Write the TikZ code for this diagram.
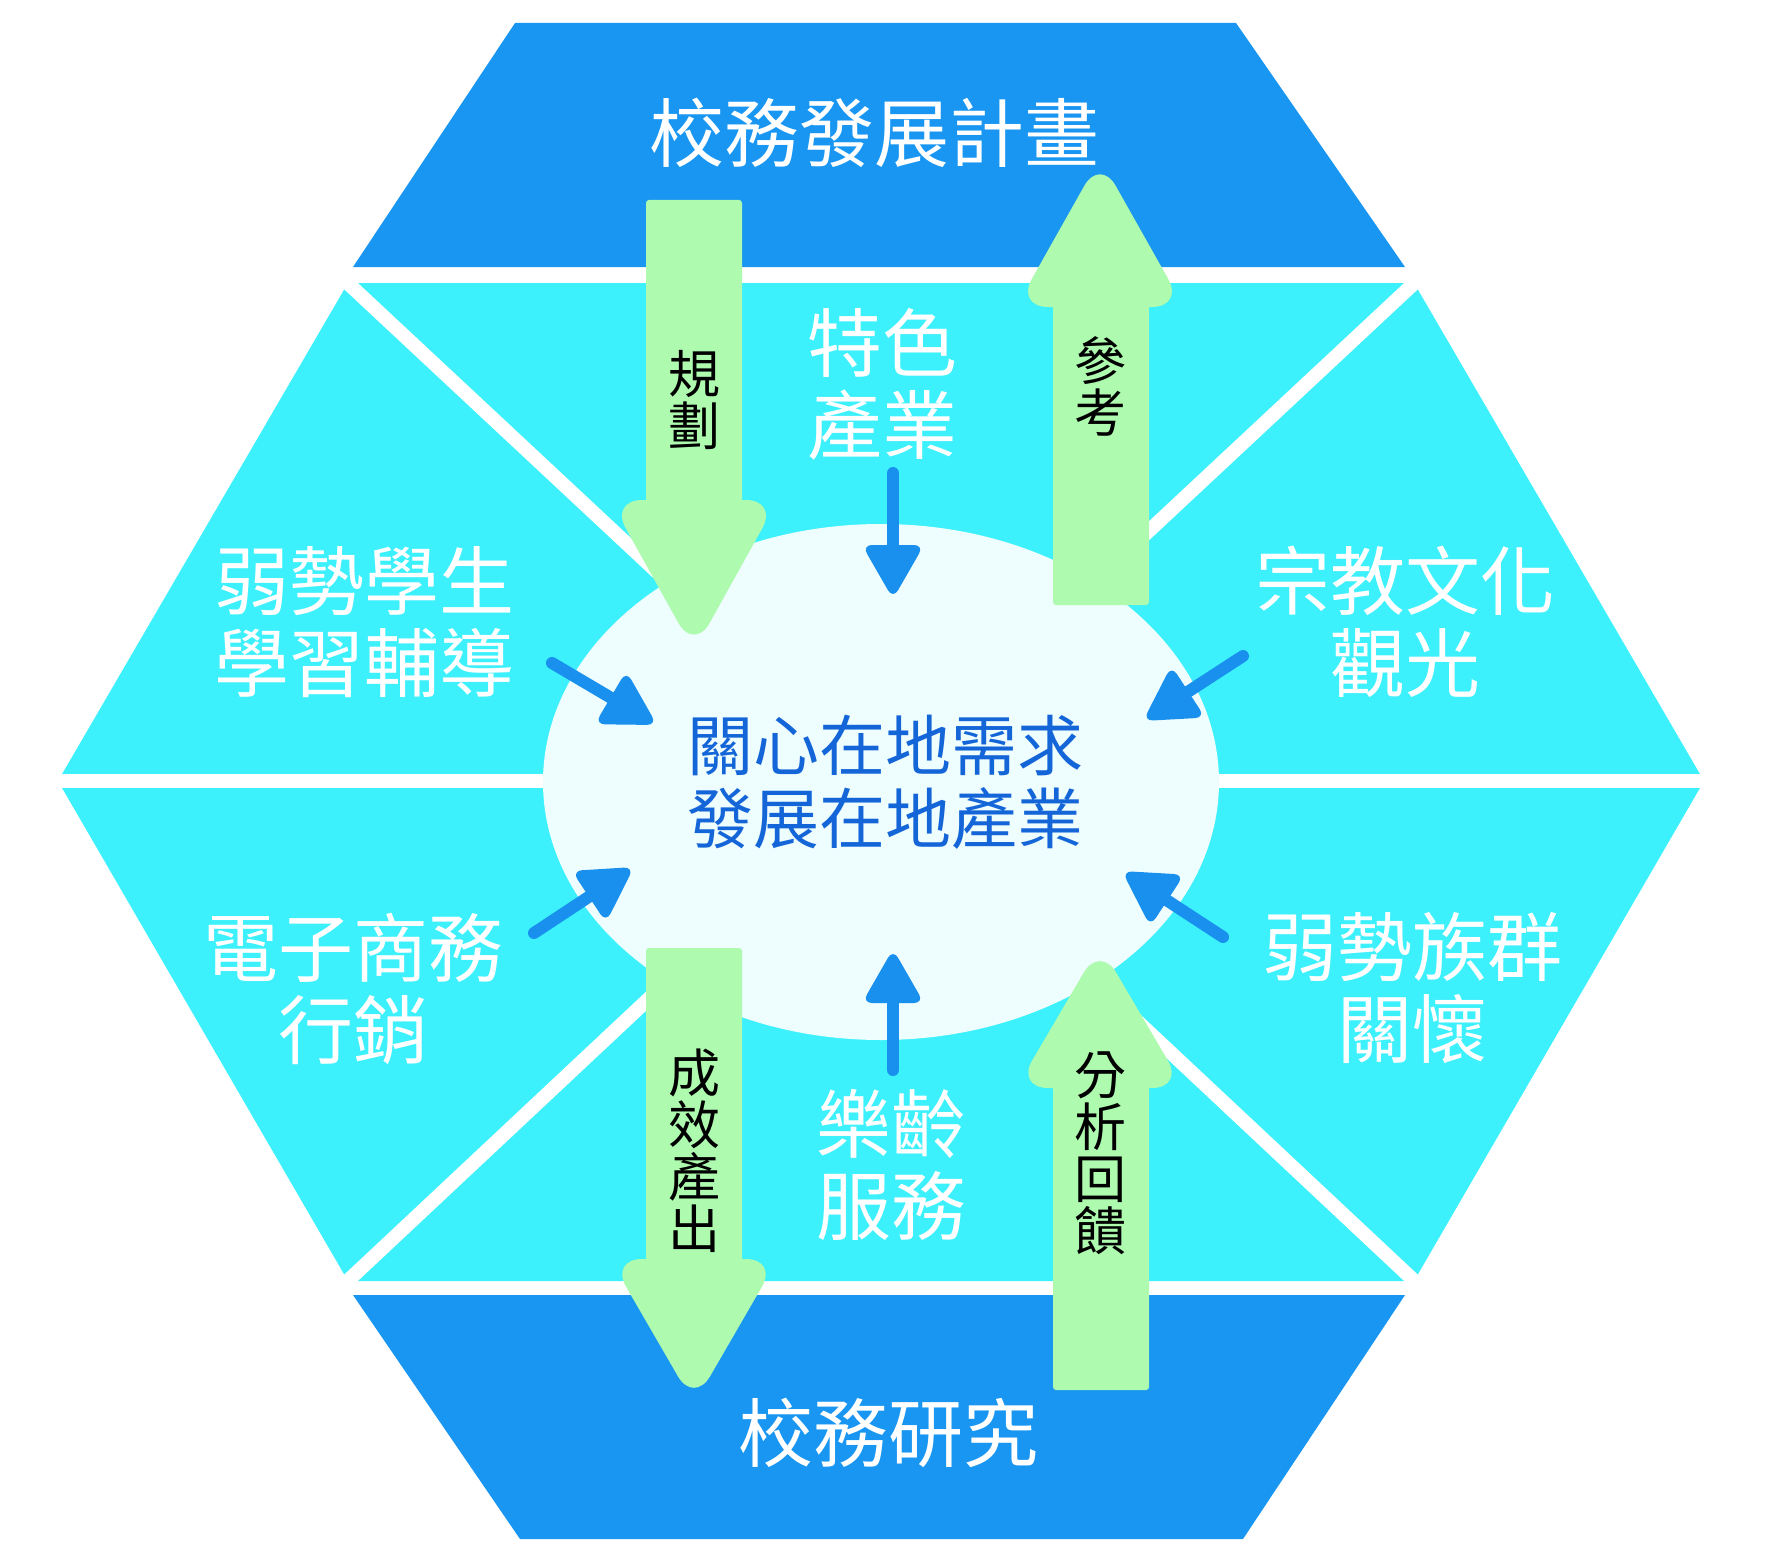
\documentclass[tikz,border=0pt]{standalone}
\usepackage{fontspec}
\newfontfamily\cjk{Noto Sans CJK TC}
\usetikzlibrary{calc,shapes.geometric}
\definecolor{darkband}{HTML}{1896F2}
\definecolor{cyanband}{HTML}{3CF0FC}
\definecolor{ellfill}{HTML}{EEFDFE}
\definecolor{greenarr}{HTML}{AEFAAF}
\definecolor{bluearr}{HTML}{1A90EE}
\definecolor{centertext}{HTML}{1466D8}
\newcommand\myBlueArrow[2]{%
  \coordinate (#1-b) at ($(#2)!54pt!(#1)$);
  \draw[bshaft] (#1) -- (#1-b);
  \fill[bluearr,rounded corners=10pt] (#1-b) -- ($(#1-b)!31pt!90:(#2)$) -- (#2) -- ($(#1-b)!31pt!-90:(#2)$) -- cycle;}
% #1 centre x, #2 base y, #3 tip y
\newcommand\myGreenHead[3]{%
  \fill[ghead] (#1,#2) -- ({#1+84},#2) -- (#1,#3) -- ({#1-84},#2) -- cycle;}
\begin{document}
\begin{tikzpicture}[x=1pt,y=-1pt,
  bigtext/.style={text=white,font=\cjk\fontsize{75}{82}\selectfont,align=center,inner sep=0pt},
  coretext/.style={text=centertext,font=\cjk\fontsize{66}{73}\selectfont,align=center,inner sep=0pt},
  greentext/.style={text=black,font=\cjk\fontsize{52}{52}\selectfont,align=center,inner sep=0pt},
  bshaft/.style={draw=bluearr,line width=12pt,line cap=round},
  whiteline/.style={draw=white,line width=14pt},
  gshaft/.style={fill=greenarr,rounded corners=3pt},
  ghead/.style={fill=greenarr,rounded corners=32pt}]
\useasboundingbox (0,0) rectangle (1770,1565);
% bands
\fill[darkband] (515,23) -- (1236,23) -- (1405,267) -- (353,267) -- cycle;
\fill[darkband] (353,1295) -- (1405,1295) -- (1243,1539) -- (520,1539) -- cycle;
\fill[cyanband] (58,781) -- (348,283) -- (1414,283) -- (1704,781) -- (1414,1281) -- (348,1281) -- cycle;
% white separators
\coordinate (hc) at (881,781);
\coordinate (hl) at (40,781);
\coordinate (hr) at (1722,781);
\coordinate (dtl) at (338,274);
\coordinate (dtr) at (1424,274);
\coordinate (dbl) at (338,1290);
\coordinate (dbr) at (1424,1290);
\draw[whiteline] (hl) -- (hr);
\draw[whiteline] (hc) -- (dtl);
\draw[whiteline] (hc) -- (dtr);
\draw[whiteline] (hc) -- (dbl);
\draw[whiteline] (hc) -- (dbr);
% core ellipse
\node[ellipse,fill=ellfill,minimum width=676pt,minimum height=516pt,inner sep=0pt] (core) at (881,782) {};
% green arrows
\fill[gshaft] (646,200) rectangle (742,520);
\myGreenHead{694}{500}{651}
\fill[gshaft] (1053,290) rectangle (1149,605);
\myGreenHead{1100}{307}{158}
\fill[gshaft] (646,948) rectangle (742,1280);
\myGreenHead{694}{1259}{1404}
\fill[gshaft] (1053,1070) rectangle (1149,1390);
\myGreenHead{1100}{1088}{945}
% blue arrows
\coordinate (fa) at (893,473);  \coordinate (fat) at (893,599);
\coordinate (la) at (893,1070); \coordinate (lat) at (893,949);
\coordinate (wa) at (552,663);  \coordinate (wat) at (657,725);
\coordinate (ra) at (1243,656); \coordinate (rat) at (1143,721);
\coordinate (ea) at (534,933);  \coordinate (eat) at (634,867);
\coordinate (ga) at (1223,937); \coordinate (gat) at (1122,871);
\myBlueArrow{fa}{fat}
\myBlueArrow{la}{lat}
\myBlueArrow{wa}{wat}
\myBlueArrow{ra}{rat}
\myBlueArrow{ea}{eat}
\myBlueArrow{ga}{gat}
% texts
\node[bigtext] (plan) at (874,133) {校務發展計畫};
\node[bigtext] (research) at (888,1433) {校務研究};
\node[bigtext] (feature) at (882,384) {特色\\產業};
\node[bigtext] (weakstu) at (364,622) {弱勢學生\\學習輔導};
\node[bigtext] (relig) at (1405,622) {宗教文化\\觀光};
\node[bigtext] (ecom) at (353,989) {電子商務\\行銷};
\node[bigtext] (ethnic) at (1412,988) {弱勢族群\\關懷};
\node[bigtext] (elder) at (891,1165) {樂齡\\服務};
\node[coretext] (coretxt) at (885,782) {關心在地需求\\發展在地產業};
\node[greentext] (gplan) at (694,400) {規\\劃};
\node[greentext] (gref) at (1100,386) {參\\考};
\node[greentext] (gout) at (694,1151) {成\\效\\產\\出};
\node[greentext] (gfeed) at (1100,1153) {分\\析\\回\\饋};
\end{tikzpicture}
\end{document}
